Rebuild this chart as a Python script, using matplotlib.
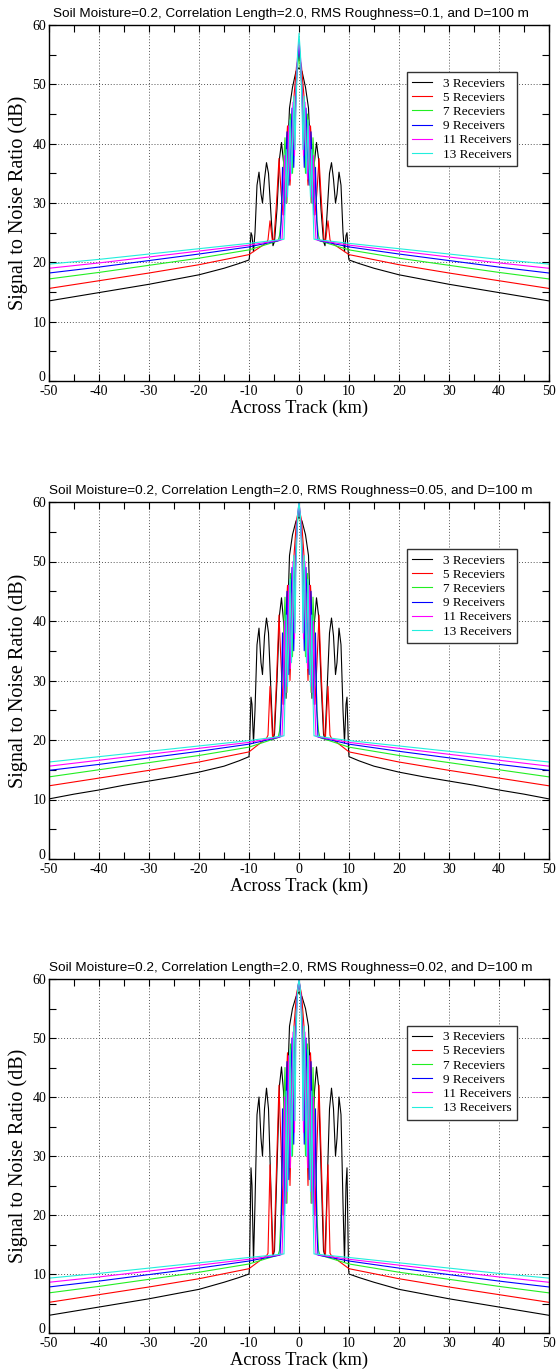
import numpy as np
import matplotlib
matplotlib.use("Agg")
import matplotlib.pyplot as plt
from matplotlib.ticker import MultipleLocator
from matplotlib.transforms import ScaledTranslation

plt.rcParams['axes.unicode_minus'] = False

titles = [
    "Soil Moisture=0.2, Correlation Length=2.0, RMS Roughness=0.1, and D=100 m",
    "Soil Moisture=0.2, Correlation Length=2.0, RMS Roughness=0.05, and D=100 m",
    "Soil Moisture=0.2, Correlation Length=2.0, RMS Roughness=0.02, and D=100 m",
]
labels = ["3 Receviers", "5 Receviers", "7 Receviers", "9 Receivers", "11 Receivers", "13 Receivers"]
colors = ["#000000", "#ff0000", "#22ee22", "#0000ff", "#ff00ff", "#22eedd"]

# right-half across-track positions (km) for each receiver count; curves are symmetric
x_r3 = [0, 0.6, 1.3, 1.9, 2.3, 2.6, 3.1, 3.5, 3.9, 4.4, 4.9, 5.2, 5.6, 6.1, 6.5, 6.9, 7.3, 7.6, 8.0, 8.4, 8.8, 9.1, 9.4, 9.6, 9.9, 10.0, 12, 15, 20, 25, 30, 35, 40, 45, 50]
x_r5 = [0, 0.5, 1.0, 1.4, 1.8, 2.3, 2.8, 3.2, 3.6, 4.0, 4.5, 5.0, 5.3, 5.8, 6.2, 6.5, 10, 20, 30, 40, 50]
x_r7 = [0, 0.45, 0.9, 1.3, 1.7, 2.1, 2.4, 2.8, 3.2, 3.6, 3.9, 4.2, 10, 20, 30, 40, 50]
x_r9 = [0, 0.4, 0.8, 1.05, 1.4, 1.75, 2.05, 2.4, 2.75, 3.0, 3.3, 3.55, 3.8, 10, 20, 30, 40, 50]
x_r11 = [0, 0.35, 0.7, 0.9, 1.2, 1.5, 1.75, 2.05, 2.35, 2.6, 2.9, 3.15, 3.4, 10, 20, 30, 40, 50]
x_r13 = [0, 0.3, 0.6, 0.8, 1.05, 1.3, 1.5, 1.8, 2.05, 2.3, 2.55, 2.8, 3.0, 10, 20, 30, 40, 50]

# SNR (dB), RMS roughness = 0.1
snr1_r3 = [52.8, 52.2, 49.5, 46, 38, 30, 37, 40.2, 37.5, 29, 23.5, 22.8, 28, 35, 36.8, 34, 30, 31.5, 35.2, 33, 25, 21.8, 24.5, 25, 21, 20.4, 19.8, 19.0, 17.9, 17.1, 16.3, 15.6, 14.9, 14.2, 13.5]
snr1_r5 = [55, 53, 48, 39, 33, 43, 36, 28, 32, 37.5, 30, 24, 23.5, 27, 23.8, 23.3, 21.3, 19.6, 18.2, 16.9, 15.6]
snr1_r7 = [55.5, 51, 44, 35, 45, 38, 30, 41, 35, 27, 24.5, 23.6, 22.1, 20.7, 19.5, 18.3, 17.2]
snr1_r9 = [56.5, 53, 44, 36, 46, 37, 33, 42, 34, 28, 36, 27, 23.7, 22.6, 21.4, 20.3, 19.2, 18.2]
snr1_r11 = [57.5, 54, 45, 38, 47, 38, 34, 43, 35, 30, 38, 28, 23.8, 22.9, 21.9, 20.9, 19.9, 19.0]
snr1_r13 = [58.6, 55, 46, 39, 48, 40, 35, 44, 36, 31, 39, 29, 23.9, 23.2, 22.3, 21.4, 20.5, 19.7]

# SNR (dB), RMS roughness = 0.05
snr2_r3 = [57.5, 56.8, 54.5, 51, 40, 27, 40, 43.9, 41, 30, 21, 20, 28, 38, 40.5, 37.5, 31, 33, 38.8, 36, 25, 19.5, 26, 27.2, 18.5, 17.2, 16.5, 15.6, 14.6, 13.8, 13.1, 12.4, 11.6, 10.9, 10.1]
snr2_r5 = [59, 57, 51, 40, 30, 46, 38, 26, 33, 41, 30, 21, 20.5, 29, 20.8, 20.3, 18.0, 16.3, 14.9, 13.6, 12.3]
snr2_r7 = [59.5, 55, 47, 34, 48, 39, 28, 44, 36, 25, 21.5, 20.4, 18.8, 17.4, 16.2, 15.0, 13.8]
snr2_r9 = [60, 56, 47, 35, 49, 38, 31, 45, 34, 26, 38, 25, 20.5, 19.3, 18.1, 17.0, 15.9, 14.9]
snr2_r11 = [60, 57, 48, 37, 50, 39, 32, 46, 35, 28, 40, 26, 20.6, 19.6, 18.6, 17.6, 16.6, 15.6]
snr2_r13 = [60, 57.5, 49, 38, 51, 40, 33, 47, 36, 29, 41, 27, 20.7, 19.9, 19.0, 18.1, 17.2, 16.3]

# SNR (dB), RMS roughness = 0.02
snr3_r3 = [57.8, 57, 55, 52, 42, 22, 41, 45.1, 42, 28, 14, 13, 24, 38, 41.5, 38, 30, 33, 40, 37, 22, 12, 25, 28, 11, 10.0, 9.4, 8.6, 7.4, 6.6, 5.8, 5.1, 4.4, 3.7, 3.0]
snr3_r5 = [59.5, 57.5, 52, 40, 25, 47.5, 38, 20, 32, 42, 28, 14, 13.3, 28.5, 13.5, 13.1, 10.9, 9.2, 7.8, 6.5, 5.2]
snr3_r7 = [60, 56, 48, 30, 49, 39, 22, 45, 35, 20, 14, 13.2, 11.7, 10.3, 9.1, 7.9, 6.8]
snr3_r9 = [60, 57, 48, 32, 50, 38, 26, 46, 33, 20, 38, 18, 13.2, 12.2, 11.0, 9.9, 8.8, 7.8]
snr3_r11 = [60, 57.5, 49, 34, 51, 39, 28, 47, 34, 22, 40, 20, 13.3, 12.5, 11.5, 10.5, 9.5, 8.6]
snr3_r13 = [60, 58, 50, 36, 52, 40, 30, 48, 35, 24, 41, 21, 13.4, 12.8, 11.9, 11.0, 10.1, 9.3]

x_sets = [x_r3, x_r5, x_r7, x_r9, x_r11, x_r13]
panels = [
    [snr1_r3, snr1_r5, snr1_r7, snr1_r9, snr1_r11, snr1_r13],
    [snr2_r3, snr2_r5, snr2_r7, snr2_r9, snr2_r11, snr2_r13],
    [snr3_r3, snr3_r5, snr3_r7, snr3_r9, snr3_r11, snr3_r13],
]

W, H = 556, 1370
fig = plt.figure(figsize=(W / 100, H / 100), dpi=100)
left, right = 49, 549
tops = [25, 502, 979]
bottoms = [381, 859, 1333]

serif = "Liberation Serif"
sans = "Liberation Sans"

for p in range(3):
    ax = fig.add_axes([left / W, 1 - bottoms[p] / H, (right - left) / W, (bottoms[p] - tops[p]) / H])
    for xs, ys, c, lab in zip(x_sets, panels[p], colors, labels):
        xr = np.asarray(xs, dtype=float)
        yr = np.asarray(ys, dtype=float)
        xx = np.concatenate([-xr[::-1], xr[1:]])
        yy = np.concatenate([yr[::-1], yr[1:]])
        ax.plot(xx, yy, color=c, lw=0.8, label=lab)
    ax.set_xlim(-50, 50)
    ax.set_ylim(0, 60)
    ax.xaxis.set_major_locator(MultipleLocator(10))
    ax.xaxis.set_minor_locator(MultipleLocator(5))
    ax.yaxis.set_major_locator(MultipleLocator(10))
    ax.yaxis.set_minor_locator(MultipleLocator(5))
    ax.tick_params(which="both", direction="in", top=True, right=True, length=5, width=0.8,
                   labelsize=10)
    ax.tick_params(axis="x", pad=3)
    ax.tick_params(axis="y", pad=2)
    for t in ax.get_xticklabels() + ax.get_yticklabels():
        t.set_fontfamily(serif)
    # the reference lifts the "0" label slightly above the corner
    fig.canvas.draw()
    ylabs = ax.yaxis.get_majorticklabels()
    for t in ylabs:
        if t.get_text() == "0":
            t.set_transform(t.get_transform() + ScaledTranslation(-1 / 100, 5 / 100, fig.dpi_scale_trans))
    ax.grid(True, which="major", linestyle=(0, (1, 2)), color="#555555", linewidth=0.7)
    for s in ax.spines.values():
        s.set_linewidth(1.0)
    ax.set_title(titles[p], fontsize=9.7, family=sans, pad=6, x=0.484)
    ax.set_xlabel("Across Track (km)", fontsize=13.2, family=serif, labelpad=1)
    ax.set_ylabel("Signal to Noise Ratio (dB)", fontsize=14.5, family=serif, labelpad=3)
    leg = ax.legend(loc="upper left", bbox_to_anchor=(0.716, 0.868), prop={"family": serif, "size": 9.5},
                    frameon=True, fancybox=False, framealpha=1, edgecolor="#333333",
                    handlelength=1.5, handletextpad=0.8, borderpad=0.4, labelspacing=0.15,
                    borderaxespad=0)
    leg.get_frame().set_linewidth(1.0)

fig.savefig("out.png", dpi=100)
